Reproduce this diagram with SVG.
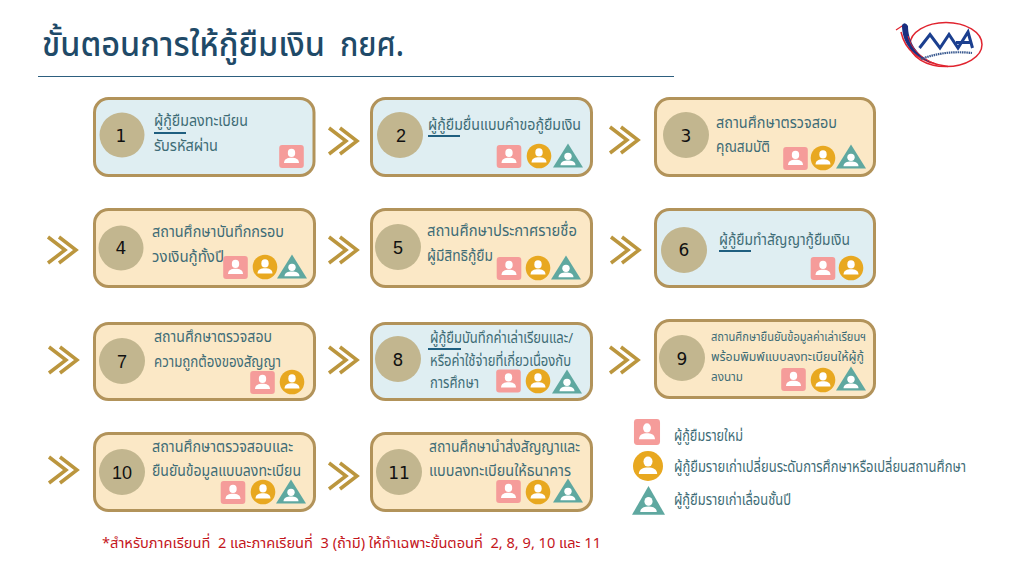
<svg xmlns="http://www.w3.org/2000/svg" xmlns:xlink="http://www.w3.org/1999/xlink" width="1011" height="569" viewBox="0 0 1011 569">
<style>
text{font-family:"Noto Sans Thai","Noto Sans","Liberation Sans","Noto Sans CJK SC",sans-serif}
.box{stroke:#B2935A;stroke-width:3}
.b{fill:#DFEEF2}.c{fill:#FBE8C6}
.dot{fill:#C2B68F}
.n{font-family:"Liberation Sans",sans-serif;font-size:18px;fill:#111;text-anchor:middle}
.d{font-family:"DejaVu Sans",sans-serif;font-size:17px;fill:#111;text-anchor:middle}
.t{font-size:15px;fill:#3E6C76}
.s{font-size:12.500px;fill:#3E6C76}
.pk{fill:#F59C9A}.or{fill:#E8A820}.tr{fill:#5FA8A0}
.u{stroke:#1F5F80;stroke-width:2;fill:none}
.ch{fill:none;stroke:#BB963E;stroke-width:3.500}
.ttl{font-size:34px;fill:#1F4A68;font-weight:500}
</style>
<defs>
<g id="person"><ellipse cx="0" cy="-3.600" rx="3.700" ry="4.100" fill="#fff"/><path d="M-7.500 6.500C-7.500 2.500-4 1.200 0 1.200S7.500 2.500 7.500 6.500Z" fill="#fff"/></g>
<g id="pink"><rect x="-12.300" y="-11.500" width="24.600" height="23" rx="3" class="pk"/><use xlink:href="#person"/></g>
<g id="orange"><circle r="12.300" class="or"/><use xlink:href="#person"/></g>
<g id="tri"><path d="M0-12.500L15 11.500H-15Z" class="tr"/><use xlink:href="#person" transform="translate(0 3.500) scale(1 .88)"/></g>
<g id="dbl"><path d="M0-13L17 0L0 13" class="ch"/><path d="M11-13L28 0L11 13" class="ch"/></g>
</defs>
<rect width="1011" height="569" fill="#fff"/>
<g id="title">
<text x="42" y="56" class="ttl" textLength="283" lengthAdjust="spacingAndGlyphs">ขั้นตอนการให้กู้ยืมเงิน</text>
<text x="340" y="56" class="ttl" textLength="64" lengthAdjust="spacingAndGlyphs">กยศ.</text>
<line x1="38" y1="76.500" x2="674" y2="76.500" stroke="#2D5F7F" stroke-width="1"/>
</g>
<g id="logo" fill="none">
<ellipse cx="946" cy="44.500" rx="36" ry="22" stroke="#E0242F" stroke-width="1.500" fill="#fff"/>
<path d="M901 32C905 50 918 62 948 66.500" stroke="#E0242F" stroke-width="1.500"/>
<path d="M896 30L902 26L906 32" stroke="#E0242F" stroke-width="1.200"/>
<path d="M902 25Q905 21 908 26C908 40 915 54 932 63C913 56 902 44 902 25Z" fill="#1B2F80"/>
<path d="M908 36C911 48 920 58 936 64" stroke="#E0242F" stroke-width="1"/>
<path d="M919.500 48L930 34.500L940 48L949 34.500L958 48L968 32L972.500 48M956 42.500H971" stroke="#1B3F8F" stroke-width="3"/>
<path d="M921 59Q945 50 972 53" stroke="#3A5A90" stroke-width="2.200" stroke-dasharray="1.500 .7"/>
</g>
<g id="connectors">
<use xlink:href="#dbl" x="329" y="141"/><use xlink:href="#dbl" x="610" y="140"/>
<use xlink:href="#dbl" x="48" y="250"/><use xlink:href="#dbl" x="329" y="250"/><use xlink:href="#dbl" x="611" y="250"/>
<use xlink:href="#dbl" x="49" y="360"/><use xlink:href="#dbl" x="329" y="360"/><use xlink:href="#dbl" x="610" y="360"/>
<use xlink:href="#dbl" x="49" y="470"/><use xlink:href="#dbl" x="329" y="476"/>
</g>
<g id="step-1"><rect x="94.500" y="98.500" width="219.500" height="77" rx="14" class="box b"/><circle cx="122" cy="135" r="22.500" class="dot"/><text x="121" y="142" class="d">1</text>
<text x="154" y="126" class="t" textLength="94" lengthAdjust="spacingAndGlyphs">ผู้กู้ยืมลงทะเบียน</text><text x="154" y="151" class="t" textLength="64" lengthAdjust="spacingAndGlyphs">รับรหัสผ่าน</text><line x1="154" y1="133" x2="186" y2="133" class="u"/>
<use xlink:href="#pink" x="291.500" y="156.500"/></g>
<g id="step-2"><rect x="371.500" y="98.500" width="220" height="77" rx="14" class="box b"/><circle cx="400" cy="135" r="23" class="dot"/><text x="401" y="142" class="n">2</text>
<text x="428" y="130" class="t" textLength="153" lengthAdjust="spacingAndGlyphs">ผู้กู้ยืมยื่นแบบคำขอกู้ยืมเงิน</text><line x1="428" y1="136" x2="460" y2="136" class="u"/>
<use xlink:href="#pink" x="509" y="156.500"/><use xlink:href="#orange" x="539" y="156"/><use xlink:href="#tri" x="568" y="156"/></g>
<g id="step-3"><rect x="655.500" y="98.500" width="219" height="77" rx="14" class="box c"/><circle cx="686" cy="135" r="23" class="dot"/><text x="686" y="142" class="d">3</text>
<text x="716" y="128" class="t" textLength="121" lengthAdjust="spacingAndGlyphs">สถานศึกษาตรวจสอบ</text><text x="716" y="152" class="t" textLength="54" lengthAdjust="spacingAndGlyphs">คุณสมบัติ</text>
<use xlink:href="#pink" x="795.500" y="158.500"/><use xlink:href="#orange" x="823" y="158"/><use xlink:href="#tri" x="851" y="157"/></g>
<g id="step-4"><rect x="94.500" y="209.500" width="220" height="77" rx="14" class="box c"/><circle cx="121" cy="248" r="22.500" class="dot"/><text x="121" y="254" class="d">4</text>
<text x="152" y="237" class="t" textLength="132" lengthAdjust="spacingAndGlyphs">สถานศึกษาบันทึกกรอบ</text><text x="152" y="262" class="t" textLength="72" lengthAdjust="spacingAndGlyphs">วงเงินกู้ทั้งปี</text>
<use xlink:href="#pink" x="235.500" y="267.500"/><use xlink:href="#orange" x="265" y="267"/><use xlink:href="#tri" x="292" y="267"/></g>
<g id="step-5"><rect x="371.500" y="209.500" width="220" height="77" rx="14" class="box c"/><circle cx="398" cy="247" r="23" class="dot"/><text x="398" y="254" class="n">5</text>
<text x="427" y="236" class="t" textLength="150" lengthAdjust="spacingAndGlyphs">สถานศึกษาประกาศรายชื่อ</text><text x="427" y="261" class="t" textLength="66" lengthAdjust="spacingAndGlyphs">ผู้มีสิทธิกู้ยืม</text>
<use xlink:href="#pink" x="509" y="268.500"/><use xlink:href="#orange" x="538" y="268"/><use xlink:href="#tri" x="566" y="268"/></g>
<g id="step-6"><rect x="655.500" y="209.500" width="219" height="77" rx="14" class="box b"/><circle cx="684" cy="250" r="23" class="dot"/><text x="684" y="256" class="d">6</text>
<text x="719" y="245" class="t" textLength="131" lengthAdjust="spacingAndGlyphs">ผู้กู้ยืมทำสัญญากู้ยืมเงิน</text><line x1="719" y1="251" x2="751" y2="251" class="u"/>
<use xlink:href="#pink" x="823" y="268.500"/><use xlink:href="#orange" x="851" y="268"/></g>
<g id="step-7"><rect x="94.500" y="323.500" width="220" height="76" rx="14" class="box c"/><circle cx="122" cy="361" r="23" class="dot"/><text x="122" y="368" class="n">7</text>
<text x="154" y="342" class="t" textLength="118" lengthAdjust="spacingAndGlyphs">สถานศึกษาตรวจสอบ</text><text x="154" y="367" class="t" textLength="127" lengthAdjust="spacingAndGlyphs">ความถูกต้องของสัญญา</text>
<use xlink:href="#pink" x="262.500" y="382.500"/><use xlink:href="#orange" x="292" y="382"/></g>
<g id="step-8"><rect x="371.500" y="323.500" width="220" height="76" rx="14" class="box b"/><circle cx="398" cy="359" r="23" class="dot"/><text x="398" y="366" class="d">8</text>
<text x="430" y="343" class="t" textLength="143" lengthAdjust="spacingAndGlyphs">ผู้กู้ยืมบันทึกค่าเล่าเรียนและ/</text><text x="430" y="366" class="t" textLength="141" lengthAdjust="spacingAndGlyphs">หรือค่าใช้จ่ายที่เกี่ยวเนื่องกับ</text><text x="430" y="388" class="t" textLength="49" lengthAdjust="spacingAndGlyphs">การศึกษา</text><line x1="428" y1="349" x2="461" y2="349" class="u"/>
<use xlink:href="#pink" x="508.500" y="381"/><use xlink:href="#orange" x="538" y="381"/><use xlink:href="#tri" x="567" y="382"/></g>
<g id="step-9"><rect x="655.500" y="320.500" width="219" height="77" rx="14" class="box c"/><circle cx="682" cy="358" r="23" class="dot"/><text x="682" y="365" class="d">9</text>
<text x="711" y="341" class="s" textLength="155" lengthAdjust="spacingAndGlyphs">สถานศึกษายืนยันข้อมูลค่าเล่าเรียนฯ</text><text x="711" y="361" class="s" textLength="153" lengthAdjust="spacingAndGlyphs">พร้อมพิมพ์แบบลงทะเบียนให้ผู้กู้</text><text x="711" y="381" class="s" textLength="32" lengthAdjust="spacingAndGlyphs">ลงนาม</text>
<use xlink:href="#pink" x="793.500" y="379.500"/><use xlink:href="#orange" x="823" y="380"/><use xlink:href="#tri" x="851" y="379"/></g>
<g id="step-10"><rect x="94.500" y="433.500" width="220" height="77" rx="14" class="box c"/><circle cx="122" cy="472" r="23" class="dot"/><text x="122" y="479" class="n">10</text>
<text x="152" y="452" class="t" textLength="141" lengthAdjust="spacingAndGlyphs">สถานศึกษาตรวจสอบและ</text><text x="152" y="476" class="t" textLength="149" lengthAdjust="spacingAndGlyphs">ยืนยันข้อมูลแบบลงทะเบียน</text>
<use xlink:href="#pink" x="233" y="492.500"/><use xlink:href="#orange" x="263" y="492"/><use xlink:href="#tri" x="291" y="492"/></g>
<g id="step-11"><rect x="371.500" y="433.500" width="220" height="77" rx="14" class="box c"/><circle cx="399" cy="472" r="23" class="dot"/><text x="399" y="479" class="d">11</text>
<text x="429" y="452" class="t" textLength="151" lengthAdjust="spacingAndGlyphs">สถานศึกษานำส่งสัญญาและ</text><text x="429" y="476" class="t" textLength="142" lengthAdjust="spacingAndGlyphs">แบบลงทะเบียนให้ธนาคาร</text>
<use xlink:href="#pink" x="508.500" y="491.500"/><use xlink:href="#orange" x="538" y="492"/><use xlink:href="#tri" x="568" y="491"/></g>
<g id="legend">
<g id="legend-new"><use xlink:href="#pink" transform="translate(647 432) scale(1.060 1.130)"/><text x="674" y="441" class="t" textLength="69" lengthAdjust="spacingAndGlyphs">ผู้กู้ยืมรายใหม่</text></g>
<g id="legend-change"><use xlink:href="#orange" transform="translate(648 466) scale(1.220)"/><text x="674" y="472" class="t" textLength="292" lengthAdjust="spacingAndGlyphs">ผู้กู้ยืมรายเก่าเปลี่ยนระดับการศึกษาหรือเปลี่ยนสถานศึกษา</text></g>
<g id="legend-up"><use xlink:href="#tri" transform="translate(648.500 501) scale(1.100 1.200)"/><text x="674" y="505" class="t" textLength="117" lengthAdjust="spacingAndGlyphs">ผู้กู้ยืมรายเก่าเลื่อนชั้นปี</text></g>
</g>
<text id="note" x="102" y="548" font-size="14.500" fill="#C4161C" style="white-space:pre" textLength="499" lengthAdjust="spacingAndGlyphs">*สำหรับภาคเรียนที่  2 และภาคเรียนที่  3 (ถ้ามี) ให้ทำเฉพาะขั้นตอนที่  2, 8, 9, 10 และ 11</text>
</svg>
